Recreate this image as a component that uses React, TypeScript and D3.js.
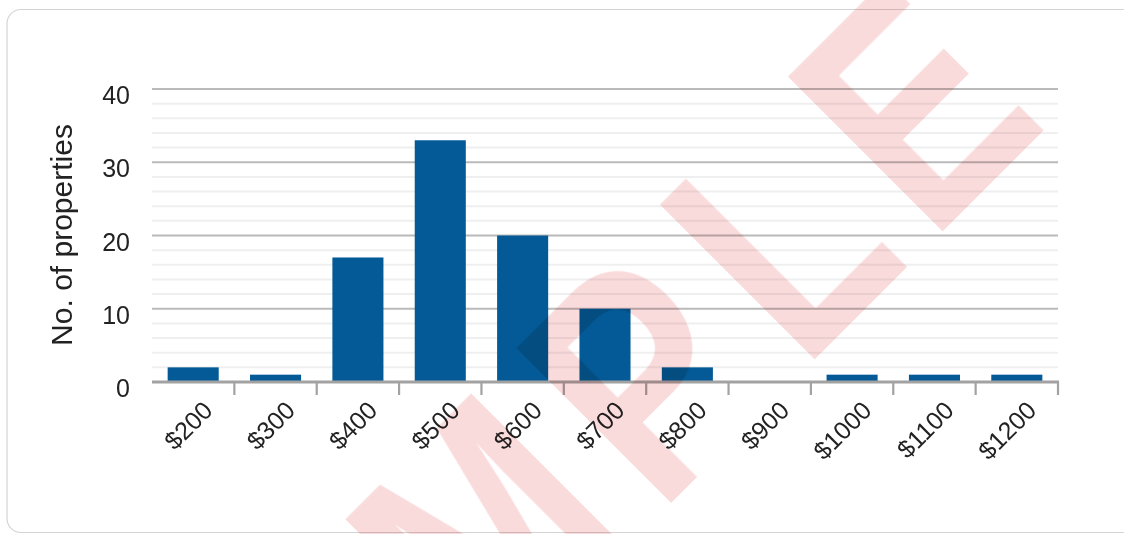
import React from 'react';
import * as d3 from 'd3';

// rent bands on the x axis and number of properties in each one
const priceBands = ['$200', '$300', '$400', '$500', '$600', '$700', '$800', '$900', '$1000', '$1100', '$1200'];
const propertyCounts = [2, 1, 17, 33, 20, 10, 2, 0, 1, 1, 1];
const yMajorTicks = [0, 10, 20, 30, 40];

const W = 1124;
const H = 534;
const margin = { top: 89, right: 66, bottom: 152, left: 152 };

const FONT = "'Liberation Sans', Arial, Helvetica, sans-serif";

const App = () => {
  const plotW = W - margin.left - margin.right;
  const baseY = H - margin.bottom;

  const x = d3.scaleBand<string>()
    .domain(priceBands)
    .range([margin.left, margin.left + plotW])
    .padding(0);

  const y = d3.scaleLinear()
    .domain([0, 40])
    .range([baseY, margin.top]);

  // light lines every 2, darker every 10
  const minorTicks = y.ticks(20).filter(t => t % 10 !== 0);
  const barW = x.bandwidth() * 0.62;

  // watermark sits on a 45deg baseline, letters placed along it
  const wmLetters = 'SAMPLE'.split('');
  const wmOffsets = [-552, -353, -140, 102, 305, 486];

  return (
    <svg width={W} height={H} style={{ position: 'absolute', left: 0, top: 0 }} fontFamily={FONT}>
      <rect x={7} y={9.5} width={1140} height={523} rx={14} ry={14} fill="#fff" stroke="#d4d4d4" strokeWidth={1.2} />

      {/* grid */}
      <g>
        {minorTicks.map(t => (
          <line key={'m' + t} x1={margin.left} x2={margin.left + plotW} y1={y(t)} y2={y(t)} stroke="#efefef" strokeWidth={2} />
        ))}
        {yMajorTicks.filter(t => t !== 0).map(t => (
          <line key={'M' + t} x1={margin.left} x2={margin.left + plotW} y1={y(t)} y2={y(t)} stroke="#bababa" strokeWidth={2} />
        ))}
      </g>

      {/* bars */}
      <g>
        {priceBands.map((b, i) => (
          propertyCounts[i] > 0 ? (
            <rect
              key={b}
              x={x(b)! + (x.bandwidth() - barW) / 2}
              y={y(propertyCounts[i])}
              width={barW}
              height={baseY - y(propertyCounts[i])}
              fill="#035a96"
            />
          ) : null
        ))}
      </g>

      {/* x axis */}
      <g>
        <line x1={margin.left} x2={margin.left + plotW + 1} y1={baseY} y2={baseY} stroke="#a2a2a2" strokeWidth={3} />
        {priceBands.map(b => (
          <line key={'t' + b} x1={x(b)! + x.step()} x2={x(b)! + x.step()} y1={baseY} y2={baseY + 13} stroke="#a2a2a2" strokeWidth={2.2} />
        ))}
        {priceBands.map(b => {
          const cx = x(b)! + x.bandwidth() / 2;
          return (
            <text key={'l' + b} transform={`translate(${cx + 21},${baseY + 30}) rotate(-45)`} textAnchor="end" fontSize={25} fill="#222">
              {b}
            </text>
          );
        })}
      </g>

      {/* y axis labels */}
      <g>
        {yMajorTicks.map(t => (
          <text key={'y' + t} x={130} y={y(t) + 15} textAnchor="end" fontSize={25} fill="#222">{t}</text>
        ))}
        <text transform={`translate(72,235) rotate(-90)`} textAnchor="middle" fontSize={30} fill="#222">No. of properties</text>
      </g>

      {/* SAMPLE watermark */}
      <g transform="translate(587,587) rotate(-45)" style={{ mixBlendMode: 'multiply' }}>
        {wmLetters.map((ch, i) => (
          <text
            key={i}
            transform={`translate(${wmOffsets[i]},0) scale(0.8,1)`}
            fontSize={318}
            fontWeight="bold"
            fill="#fadbdc"
          >
            {ch}
          </text>
        ))}
      </g>
    </svg>
  );
};

export default App;
